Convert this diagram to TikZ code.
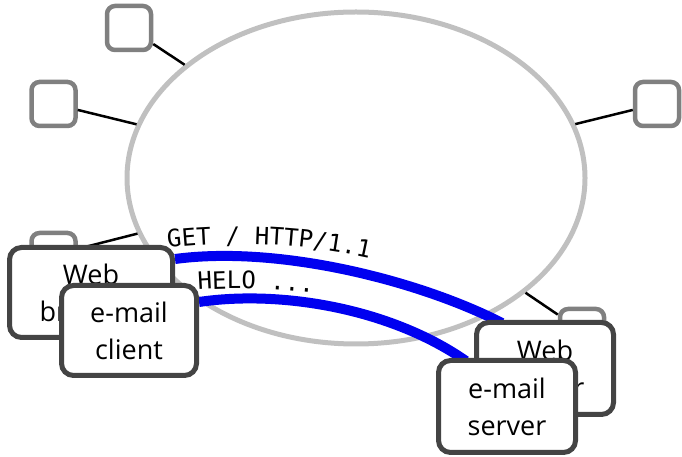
\documentclass[tikz,border=0pt]{standalone}
\usepackage{fontspec}
\setmainfont{Open Sans}
\newfontfamily\monofnt{DejaVu Sans Mono}
\usetikzlibrary{shapes.geometric,decorations.text}
\pgfdeclarelayer{bglayer}
\pgfdeclarelayer{linklayer}
\pgfsetlayers{bglayer,linklayer,main}
\definecolor{ellgray}{RGB}{192,192,192}
\definecolor{sqgray}{RGB}{128,128,128}
\definecolor{boxgray}{RGB}{68,68,68}
\definecolor{linkblue}{RGB}{0,0,240}
\tikzset{
  hostsq/.style={rectangle, rounded corners=8pt, draw=sqgray, line width=4.5pt, fill=white, minimum size=44pt, inner sep=0pt},
  appbox/.style={rectangle, rounded corners=12pt, draw=boxgray, line width=5pt, fill=white, inner sep=0pt, align=center, font=\fontsize{27}{37}\selectfont},
  wire/.style={draw=black, line width=2.5pt},
  link/.style={draw=linkblue, line width=10pt},
  msgtext/.style={decorate, decoration={text along path, text align=left, text={|\monofnt\fontsize{24}{24}\selectfont|#1}}},
}
\begin{document}
\begin{tikzpicture}[x=1pt,y=1pt]
\useasboundingbox (0,0) rectangle (682,457);
\begin{pgfonlayer}{bglayer}
\node[ellipse, draw=ellgray, line width=5pt, minimum width=458pt, minimum height=332pt, inner sep=0pt] (ell) at (356,279) {};
\node[hostsq] (s1) at (129,429) {};
\node[hostsq] (s2) at (53.5,353) {};
\node[hostsq] (s3) at (657,353) {};
\node[hostsq] (s4) at (53.5,202) {};
\node[hostsq] (s5) at (582,126) {};
\foreach \s in {s1,s2,s3,s4,s5} \draw[wire] (\s) -- (ell);
\end{pgfonlayer}
\node[appbox, minimum width=163pt, minimum height=90pt] (wb) at (91,164.5) {Web\\browser};
\node[appbox, minimum width=137pt, minimum height=92pt] (ws) at (545,88.5) {Web\\server};
\node[appbox, minimum width=135pt, minimum height=90pt] (ec) at (129,126.5) {e-mail\\client};
\node[appbox, minimum width=137pt, minimum height=92pt] (es) at (507,50.5) {e-mail\\server};
\begin{pgfonlayer}{linklayer}
\path[link] ([yshift=-14pt]wb.north east) .. controls +(105,14) and +(-82,42) .. ([xshift=28pt,yshift=-3pt]ws.north west);
\path[link] ([yshift=-19pt]ec.north east) .. controls +(81,12) and +(-76,53) .. ([xshift=30pt,yshift=-3pt]es.north west);
\end{pgfonlayer}
\path[msgtext={GET / HTTP/1.1}] (168,209) .. controls (235,217) and (320,214) .. (400,191);
\path[msgtext={HELO ...}] (198,167) .. controls (240,170) and (290,168) .. (350,160);
\end{tikzpicture}
\end{document}
